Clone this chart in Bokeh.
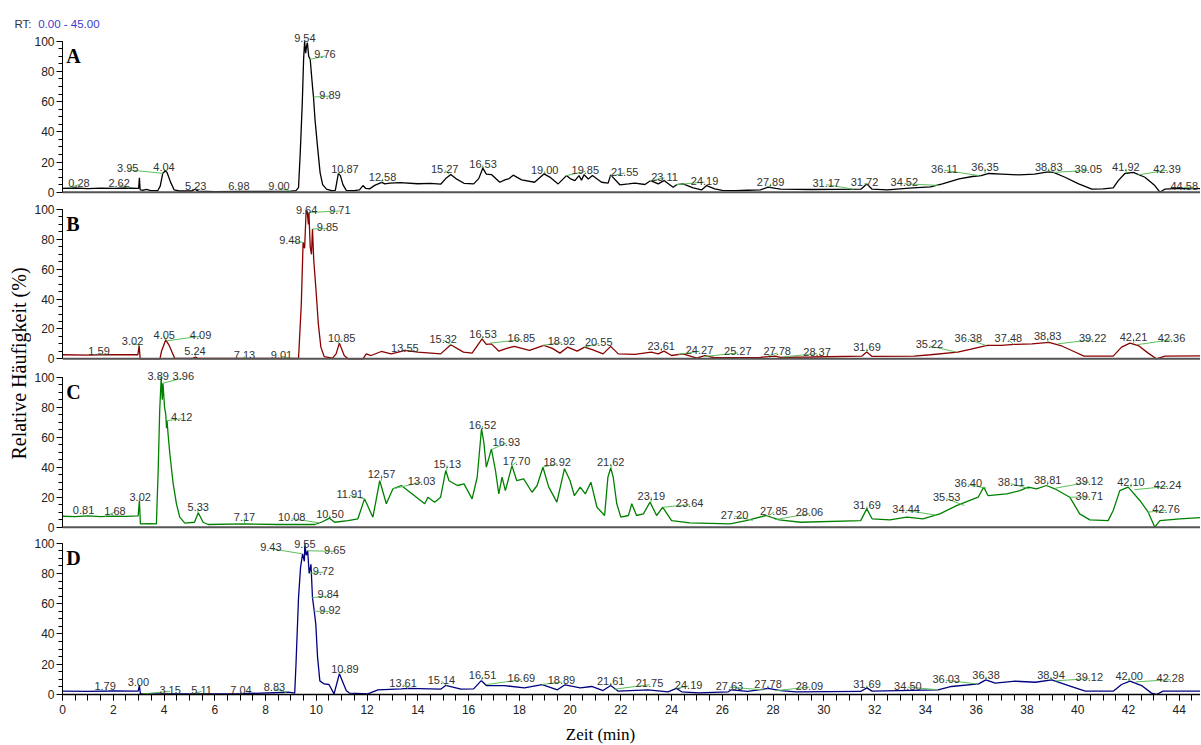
import math
from bokeh.plotting import figure
from bokeh.layouts import column, row
from bokeh.models import Range1d, FixedTicker, Span, ColumnDataSource
from bokeh.core.properties import value
from bokeh.embed import file_html
from bokeh.resources import INLINE

# ---------------- data ----------------
x_ticks = list(range(0, 46, 2))
x_minor = [i * 0.5 for i in range(0, 91)]
y_ticks = [0, 20, 40, 60, 80, 100]
y_minor = list(range(0, 101, 5))
panel_letters = ["A", "B", "C", "D"]
trace_colors = ["#000000", "#8B0000", "#008000", "#000080"]
x_title = "Zeit (min)"
y_title = "Relative Häufigkeit (%)"
rt_prefix = "RT:"
rt_range = "0.00 - 45.00"

# chromatogram traces: (retention time [min], relative abundance [%])
trace_A = [
    (0, 2.6), (0.5, 2.8), (1.0, 2.4), (1.5, 2.7), (2.0, 2.5), (2.5, 2.8), (2.95, 2.6), (3.0, 2.6), (3.03, 9.5), (3.06, 1.5),
    (3.2, 1.3), (3.3, 1.8), (3.45, 1.2), (3.75, 1.0), (3.85, 4.0), (3.95, 12.5), (4.05, 14.0), (4.12, 13.0), (4.25, 7.0), (4.4, 1.5),
    (4.6, 0.8), (5.1, 0.8), (5.22, 2.0), (5.35, 0.7), (6.0, 0.4), (7.0, 0.6), (8.0, 0.5), (9.0, 0.7), (9.2, 1.0), (9.3, 3.0),
    (9.37, 27), (9.45, 60), (9.5, 88), (9.54, 100), (9.58, 92), (9.62, 97), (9.65, 99), (9.7, 90), (9.76, 88), (9.8, 80),
    (9.85, 70), (9.89, 63), (9.95, 48), (10.05, 30), (10.15, 13), (10.25, 5), (10.4, 2), (10.6, 1.0), (10.75, 1.2), (10.87, 12.5),
    (10.95, 11), (11.05, 5), (11.18, 1.2), (11.5, 1.0), (11.7, 1.5), (11.84, 4.4), (11.95, 2.5), (12.1, 2.2), (12.3, 4.5), (12.58, 6.5),
    (12.7, 5.5), (12.9, 6.0), (13.3, 6.3), (14.0, 5.6), (14.5, 5.9), (14.9, 5.3), (15.1, 9), (15.3, 11.7), (15.5, 9), (15.82, 5.9),
    (16.2, 5.5), (16.4, 9), (16.56, 15.9), (16.7, 12), (16.9, 11.7), (17.23, 6.6), (17.43, 8.2), (17.6, 9), (17.76, 11.3), (18.09, 8.2),
    (18.6, 6.6), (18.97, 12.1), (19.2, 10), (19.53, 5.5), (19.86, 11), (20.0, 9), (20.19, 7.7), (20.35, 11), (20.45, 8), (20.55, 11.5),
    (20.72, 8.8), (20.88, 11), (21.24, 6.6), (21.5, 6), (21.6, 11.5), (21.96, 4.9), (22.3, 5.5), (22.55, 6.0), (22.95, 5.1), (23.18, 7.7),
    (23.47, 5.5), (23.7, 7.7), (24.06, 3.3), (24.2, 5.0), (24.45, 5.5), (24.85, 2.9), (25.18, 1.5), (25.38, 4.4), (25.7, 2.2), (26.0, 1.2),
    (26.5, 1.0), (27.0, 1.3), (27.5, 1.5), (27.8, 3.3), (28.1, 2.5), (28.3, 2.0), (29.5, 1.8), (30.5, 1.9), (31.46, 2.0), (31.69, 5.5),
    (31.9, 2.0), (32.5, 1.6), (33.5, 2.9), (34.2, 3.5), (34.67, 5.5), (35.33, 8.8), (35.85, 10.4), (36.2, 11), (36.5, 12.4), (37.0, 12.0),
    (37.68, 11.5), (38.3, 12), (38.83, 13.5), (39.05, 13.1), (39.5, 9.9), (40.04, 5.5), (40.56, 2.0), (41.0, 2.2), (41.4, 2.9), (41.6, 7.7),
    (41.86, 12.4), (42.19, 13.1), (42.65, 9.9), (43.04, 4.4), (43.24, 0.0), (43.43, 2.0), (44.0, 2.5), (45.0, 2.4),
]
trace_B = [
    (0, 2.7), (1, 2.5), (2, 2.8), (2.97, 2.7), (3.02, 8.9), (3.06, 0), (3.84, 0), (3.9, 5), (4.07, 12.7), (4.2, 9),
    (4.42, 0.4), (5.1, 0.2), (5.24, 1.1), (5.35, 0.2), (9.3, 0.2), (9.41, 36.8), (9.48, 78), (9.54, 74), (9.6, 99), (9.64, 99),
    (9.69, 90), (9.71, 98), (9.76, 75), (9.81, 70), (9.85, 87), (9.9, 66), (9.99, 45.8), (10.08, 23.4), (10.18, 7.8), (10.31, 1.5),
    (10.64, 0.5), (10.78, 3.3), (10.91, 10.5), (11.1, 2.2), (11.25, 0), (11.84, 0), (11.97, 3.3), (12.16, 2.2), (12.56, 4.9), (12.95, 3.3),
    (13.35, 4.9), (13.48, 5.6), (14.0, 4.5), (14.9, 3.3), (15.3, 9.4), (15.8, 4.5), (16.14, 3.8), (16.53, 13.4), (16.7, 9.6), (16.9, 10),
    (17.2, 5.1), (17.5, 7), (17.8, 8.3), (18.4, 5.6), (18.97, 9), (19.3, 7), (19.6, 3.8), (19.9, 7.8), (20.28, 5.1), (20.57, 7.8),
    (20.9, 6.0), (21.3, 3.3), (21.6, 8.3), (21.9, 3.3), (22.55, 2.9), (23.2, 4.5), (23.47, 3.3), (23.7, 5.1), (24.0, 2.2), (24.45, 3.3),
    (24.99, 0.5), (25.31, 2.2), (25.7, 0.7), (26.5, 0.8), (27.5, 1.0), (28.08, 1.8), (28.3, 1.0), (29.5, 1.2), (31.5, 1.8), (31.69, 4.5),
    (31.9, 1.6), (33.56, 1.8), (34.2, 2.7), (35.27, 4.5), (35.8, 6.5), (36.44, 9), (37.0, 9), (37.5, 9.6), (38.2, 10), (38.87, 11),
    (39.33, 8.9), (39.85, 4.9), (40.25, 1.8), (41.4, 1.8), (41.73, 7.8), (42.06, 10.5), (42.39, 8.9), (42.78, 3.8), (43.1, 0), (43.44, 1.8),
    (45, 2.0),
]
trace_C = [
    (0, 7.3), (0.5, 7.0), (1.0, 7.6), (1.5, 7.1), (2.0, 7.4), (2.5, 7.2), (2.98, 7.5), (3.03, 17.8), (3.07, 2.2), (3.4, 2.4),
    (3.7, 2.2), (3.77, 37.8), (3.83, 77.8), (3.89, 100), (3.93, 85), (3.96, 96), (4.02, 80), (4.07, 75), (4.1, 66), (4.12, 71),
    (4.16, 62), (4.23, 49), (4.36, 29), (4.49, 15.6), (4.62, 6.7), (4.82, 2.7), (5.2, 3.3), (5.35, 9.6), (5.54, 3.3), (5.74, 1.8),
    (7.17, 2.2), (8.5, 1.8), (9.94, 1.8), (10.2, 3.3), (10.52, 6.0), (10.72, 3.3), (11.25, 4.4), (11.64, 5.6), (11.9, 18.9), (12.23, 6.7),
    (12.5, 31), (12.76, 15.6), (13.02, 25.6), (13.35, 27.8), (13.87, 21), (14.27, 15.6), (14.4, 20), (14.66, 16.7), (14.9, 20), (15.1, 37.8),
    (15.23, 31), (15.56, 27.8), (15.82, 28.9), (16.14, 18.9), (16.34, 33.3), (16.51, 65.6), (16.6, 56.7), (16.7, 40), (16.9, 52), (17.06, 37.8),
    (17.19, 22.2), (17.32, 33.3), (17.45, 24.4), (17.71, 41), (17.9, 31), (18.17, 32.2), (18.5, 23.3), (18.7, 27.8), (18.93, 40), (19.16, 26.7),
    (19.48, 16.7), (19.78, 39), (20.0, 31), (20.17, 21), (20.4, 26.7), (20.6, 22.2), (20.82, 30), (21.06, 13.3), (21.36, 7.8), (21.49, 33.3),
    (21.6, 39.5), (21.7, 33.3), (21.84, 15.6), (22.0, 6.7), (22.3, 7.8), (22.43, 15.6), (22.62, 7.8), (22.89, 8.9), (23.15, 16.7), (23.41, 7.8),
    (23.65, 13.3), (24.0, 4.4), (24.72, 2.9), (26.3, 2.2), (26.94, 4.4), (27.72, 7.8), (28.24, 4.9), (29.09, 3.3), (31.45, 4.4), (31.69, 12.2),
    (31.9, 5.6), (32.6, 4.9), (33.27, 6.7), (33.9, 5.6), (34.57, 8.9), (35.23, 14.4), (36.08, 20), (36.3, 26.7), (36.47, 21), (37.2, 22.2),
    (37.72, 24.4), (38.05, 26.7), (38.38, 25.6), (38.77, 27.8), (39.1, 25.6), (39.69, 20), (40.08, 8.9), (40.48, 4.9), (41.2, 4.4), (41.4, 11.1),
    (41.66, 24.4), (41.99, 26.7), (42.45, 17.8), (42.78, 10), (43.04, 0), (43.24, 4.4), (44.03, 5.6), (45, 6.5),
]
trace_D = [
    (0, 2.2), (1, 2.0), (2, 2.3), (2.98, 2.2), (3.03, 6), (3.07, 0.4), (5, 0.4), (7, 0.5), (8.9, 1.5), (9.15, 0.9),
    (9.2, 20), (9.3, 64), (9.38, 84), (9.46, 93), (9.53, 88), (9.55, 100), (9.6, 92), (9.66, 95), (9.72, 80), (9.79, 86),
    (9.85, 64), (9.92, 55), (9.98, 46.7), (10.05, 24.7), (10.14, 9), (10.31, 7), (10.5, 6.6), (10.7, 0.4), (10.91, 13.7), (11.18, 2.6),
    (11.31, 0.9), (12.03, 0.4), (12.43, 3), (13.35, 3.7), (13.61, 4), (14.9, 3.5), (15.1, 6), (15.7, 3.5), (16.2, 3.7), (16.5, 9.2),
    (16.7, 5.9), (17.4, 5.9), (18.2, 4.4), (18.9, 6.6), (19.5, 3.1), (19.8, 6.4), (20.4, 4.4), (20.85, 5.3), (21.3, 2.6), (21.6, 6),
    (21.9, 2.2), (23.07, 3.1), (23.86, 1.8), (24.19, 4), (24.4, 1.8), (25.05, 1.1), (26.23, 1.8), (26.36, 3.1), (27.0, 2.0), (27.8, 4),
    (28.3, 2.6), (28.9, 1.8), (31.45, 2.0), (31.69, 4.4), (31.9, 2.2), (34.5, 3.1), (35.03, 5.3), (36.1, 7), (36.38, 9.7), (36.75, 7.5),
    (37.54, 8.8), (38.33, 8.1), (38.98, 9.7), (39.64, 5.9), (40.3, 2.2), (41.4, 2.2), (41.73, 6.6), (42.06, 8.8), (42.52, 5.9), (42.91, 0.9),
    (43.1, 0), (43.37, 2.2), (45, 2.2),
]

# annotated peaks: (retention time, apex height %)
peaks_A = [(0.28, 3.0), (2.62, 2.8), (3.95, 12.5), (4.04, 14.0), (5.23, 2.0), (6.98, 0.6), (9.00, 0.7), (9.54, 100), (9.76, 88),
           (9.89, 63), (10.87, 12.5), (12.58, 6.5), (15.27, 11.5), (16.53, 15.9), (19.00, 12.0), (19.85, 11.0), (21.55, 10.5),
           (23.11, 7.5), (24.19, 5.0), (27.89, 3.3), (31.17, 2.0), (31.72, 5.5), (34.52, 4.5), (36.11, 11.0), (36.35, 12.4),
           (38.83, 13.5), (39.05, 13.1), (41.92, 12.5), (42.39, 11.5), (44.58, 2.5)]
peaks_B = [(1.59, 2.7), (3.02, 8.9), (4.05, 12.7), (4.09, 12.0), (5.24, 1.1), (7.13, 0.2), (9.01, 0.2), (9.48, 78), (9.64, 99),
           (9.71, 98), (9.85, 87), (10.85, 10.5), (13.55, 5.6), (15.32, 9.4), (16.53, 13.4), (16.85, 10.5), (18.92, 9.0),
           (20.55, 7.8), (23.61, 5.0), (24.27, 3.0), (25.27, 1.5), (27.78, 1.8), (28.37, 1.2), (31.69, 4.5), (35.22, 4.5),
           (36.38, 9.0), (37.48, 9.6), (38.83, 11.0), (39.22, 10.0), (42.21, 10.0), (42.36, 9.5)]
peaks_C = [(0.81, 7.3), (1.68, 7.3), (3.02, 17.8), (3.89, 100), (3.96, 96), (4.12, 71), (5.33, 9.6), (7.17, 2.2), (10.08, 3.0),
           (10.50, 6.0), (11.91, 18.9), (12.57, 31), (13.03, 25.6), (15.13, 37.8), (16.52, 65.6), (16.93, 52), (17.70, 41),
           (18.92, 40), (21.62, 39.5), (23.19, 16.7), (23.64, 13.3), (27.20, 4.5), (27.85, 7.8), (28.06, 5.0), (31.69, 12.2),
           (34.44, 8.0), (35.53, 14.5), (36.40, 26.0), (38.11, 25.5), (38.81, 27.8), (39.12, 26.0), (39.71, 20.0), (42.10, 26.5),
           (42.24, 25.0), (42.76, 10.0)]
peaks_D = [(1.79, 2.1), (3.00, 6.0), (3.15, 0.4), (5.11, 0.4), (7.04, 0.5), (8.83, 1.4), (9.43, 93), (9.55, 100), (9.65, 95),
           (9.72, 80), (9.84, 64), (9.92, 55), (10.89, 13.7), (13.61, 4.0), (15.14, 6.0), (16.51, 9.2), (16.69, 6.5), (18.89, 6.6),
           (21.61, 6.0), (21.75, 3.5), (24.19, 4.0), (27.63, 3.0), (27.78, 4.0), (28.09, 2.5), (31.69, 4.4), (34.50, 3.1),
           (36.03, 7.0), (36.38, 9.7), (38.94, 9.7), (39.12, 9.0), (42.00, 8.8), (42.28, 8.3)]

# label placement (layout): (centre x [min], baseline y [%]) for each peak label
labpos_A = [(0.65, 6.0), (2.23, 6.0), (2.57, 15.9), (4.0, 16.6), (5.25, 4.4), (6.95, 4.4), (8.53, 3.8), (9.55, 102), (10.34, 91.2),
            (10.54, 64.7), (11.13, 15.5), (12.61, 9.9), (15.06, 15.5), (16.57, 18.8), (19.0, 14.8), (20.6, 14.8), (22.15, 13.7),
            (23.72, 10.4), (25.3, 7.7), (27.9, 6.6), (30.09, 6.0), (31.6, 6.6), (33.17, 6.6), (34.75, 15.5), (36.35, 16.6),
            (38.86, 16.6), (40.42, 15.5), (41.9, 16.6), (43.52, 15.5), (44.2, 4.4)]
labpos_B = [(1.44, 4.9), (2.76, 11.6), (4.01, 16.1), (5.44, 16.1), (5.22, 4.9), (7.17, 2.7), (8.63, 2.7), (8.96, 79.7), (9.62, 100.0),
            (10.93, 100.0), (10.44, 88.2), (11.0, 13.8), (13.49, 7.4), (15.0, 13.4), (16.57, 16.3), (18.08, 13.8), (19.66, 11.8),
            (21.13, 11.2), (23.59, 8.3), (25.1, 6.0), (26.61, 4.9), (28.16, 4.9), (29.73, 4.5), (31.7, 7.8), (34.16, 9.6),
            (35.69, 14.1), (37.27, 13.8), (38.82, 15.0), (40.59, 13.8), (42.2, 14.5), (43.7, 13.8)]
labpos_C = [(0.83, 11.6), (2.07, 11.1), (3.06, 20.4), (3.77, 100.8), (4.76, 100.5), (4.7, 73.3), (5.35, 13.3), (7.17, 6.7), (9.03, 6.7),
            (10.54, 8.9), (11.32, 22.2), (12.57, 35.6), (14.15, 31.1), (15.16, 42.2), (16.55, 68.4), (17.49, 57.1), (17.89, 44.4),
            (19.49, 43.3), (21.6, 43.3), (23.2, 21.1), (24.71, 16.0), (26.48, 8.4), (28.03, 11.1), (29.43, 10.0), (31.7, 14.9),
            (33.24, 12.2), (34.84, 20.0), (35.69, 29.3), (37.38, 30.0), (38.82, 31.6), (40.46, 31.1), (40.46, 21.1), (42.1, 30.0),
            (43.54, 28.2), (43.48, 12.2)]
labpos_D = [(1.68, 5.9), (2.99, 8.1), (4.24, 3.1), (5.48, 3.1), (7.03, 3.1), (8.35, 4.8), (8.21, 97.4), (9.55, 99.3), (10.73, 95.6),
            (10.28, 81.9), (10.47, 66.1), (10.54, 55.9), (11.13, 17.0), (13.42, 7.5), (14.93, 9.7), (16.55, 12.6), (18.08, 10.8),
            (19.66, 9.3), (21.6, 8.6), (23.13, 7.5), (24.67, 6.6), (26.28, 5.9), (27.8, 7.0), (29.43, 5.9), (31.7, 7.0), (33.31, 5.9),
            (34.82, 10.4), (36.39, 12.6), (38.95, 12.6), (40.46, 11.5), (42.03, 12.1), (43.65, 10.8)]

# ---------------- layout constants ----------------
YLAB_W = 31
PANEL_W = 1200 - YLAB_W
BORDER_L = 61 - YLAB_W
X_END = 44.84
FONT = "Liberation Sans"
SERIF = "Liberation Serif"


def make_panel(letter, trace, color, peaks, labpos, y_start, y_end, height, bottom):
    p = figure(width=PANEL_W, height=height, x_range=Range1d(0, X_END), y_range=Range1d(y_start, y_end),
               output_backend="svg", toolbar_location=None,
               min_border_left=BORDER_L, min_border_right=0, min_border_top=0,
               min_border_bottom=26 if bottom else 0,
               x_axis_type="linear" if bottom else None)
    p.outline_line_color = None
    p.background_fill_color = "white"
    p.border_fill_color = "white"
    p.grid.visible = False

    ya = p.yaxis[0]
    ya.ticker = FixedTicker(ticks=y_ticks, minor_ticks=y_minor)
    ya.bounds = (0, 100)
    ya.axis_line_color = "black"
    ya.axis_line_width = 1
    ya.major_tick_out = 6
    ya.major_tick_in = 0
    ya.minor_tick_out = 4
    ya.minor_tick_in = 0
    ya.major_tick_line_color = "black"
    ya.minor_tick_line_color = "black"
    ya.major_label_standoff = 2
    ya.major_label_text_font = FONT
    ya.major_label_text_font_size = "12px"
    ya.major_label_text_color = "#222222"

    if bottom:
        xa = p.xaxis[0]
        xa.ticker = FixedTicker(ticks=x_ticks, minor_ticks=x_minor)
        xa.axis_line_color = "black"
        xa.axis_line_width = 1.5
        xa.major_tick_out = 6
        xa.major_tick_in = 0
        xa.minor_tick_out = 6
        xa.minor_tick_in = 0
        xa.major_tick_line_color = "black"
        xa.minor_tick_line_color = "black"
        xa.major_label_standoff = 4
        xa.major_label_text_font = FONT
        xa.major_label_text_font_size = "12px"
        xa.major_label_text_color = "#222222"
    else:
        p.add_layout(Span(location=0, dimension="width", line_color="#555555", line_width=2))

    tx = [a for a, b in trace]
    ty = [b for a, b in trace]
    p.line(tx, ty, line_color=color, line_width=1.3)

    src = ColumnDataSource(dict(
        rt=[a for a, b in peaks],
        h=[b for a, b in peaks],
        lx=[a for a, b in labpos],
        ly=[b for a, b in labpos],
        ly2=[b - 1.0 for a, b in labpos],
        txt=["%.2f" % a for a, b in peaks],
    ))
    p.segment(x0="rt", y0="h", x1="lx", y1="ly2", source=src, line_color="#5cc05c", line_width=1)
    p.text(x="lx", y="ly", text="txt", source=src, text_font=value(FONT), text_font_size="11px",
           text_color="#333333", text_align="center", text_baseline="alphabetic")

    p.text(x=[0.15], y=[90], text=[letter], text_font=value(SERIF), text_font_style="bold",
           text_font_size="20px", text_color="black", text_align="left", text_baseline="alphabetic")
    return p


pA = make_panel(panel_letters[0], trace_A, trace_colors[0], peaks_A, labpos_A, -4.83, 108.41, 171, False)
pB = make_panel(panel_letters[1], trace_B, trace_colors[1], peaks_B, labpos_B, -4.49, 106.7, 166, False)
pC = make_panel(panel_letters[2], trace_C, trace_colors[2], peaks_C, labpos_C, -4.87, 107.8, 169, False)
pD = make_panel(panel_letters[3], trace_D, trace_colors[3], peaks_D, labpos_D, 0.0, 105.75, 186, True)


def blank(width, height):
    f = figure(width=width, height=height, x_range=Range1d(0, width), y_range=Range1d(0, height),
               output_backend="svg", toolbar_location=None, min_border=0,
               x_axis_type=None, y_axis_type=None)
    f.outline_line_color = None
    f.grid.visible = False
    f.background_fill_color = "white"
    f.border_fill_color = "white"
    return f


header = blank(1200, 28)
header.text(x=[14], y=[5], text=[rt_prefix], text_font=value(FONT), text_font_size="11.5px",
            text_color="#333333", text_baseline="alphabetic")
header.text(x=[37.7], y=[5], text=[rt_range], text_font=value(FONT), text_font_size="11.5px",
            text_color="#3a3acc", text_baseline="alphabetic")

ylab = blank(YLAB_W, 692)
ylab.text(x=[18.5], y=[357], text=[y_title], angle=math.pi / 2, text_font=value(SERIF),
          text_font_size="20px", text_color="black", text_align="center", text_baseline="middle")

footer = blank(1200, 24)
footer.text(x=[600], y=[10], text=[x_title], text_font=value(SERIF), text_font_size="17px",
            text_color="black", text_align="center", text_baseline="alphabetic")

layout = column(header, row(ylab, column(pA, pB, pC, pD)), footer)

with open("out.html", "w") as fh:
    fh.write(file_html(layout, INLINE))
